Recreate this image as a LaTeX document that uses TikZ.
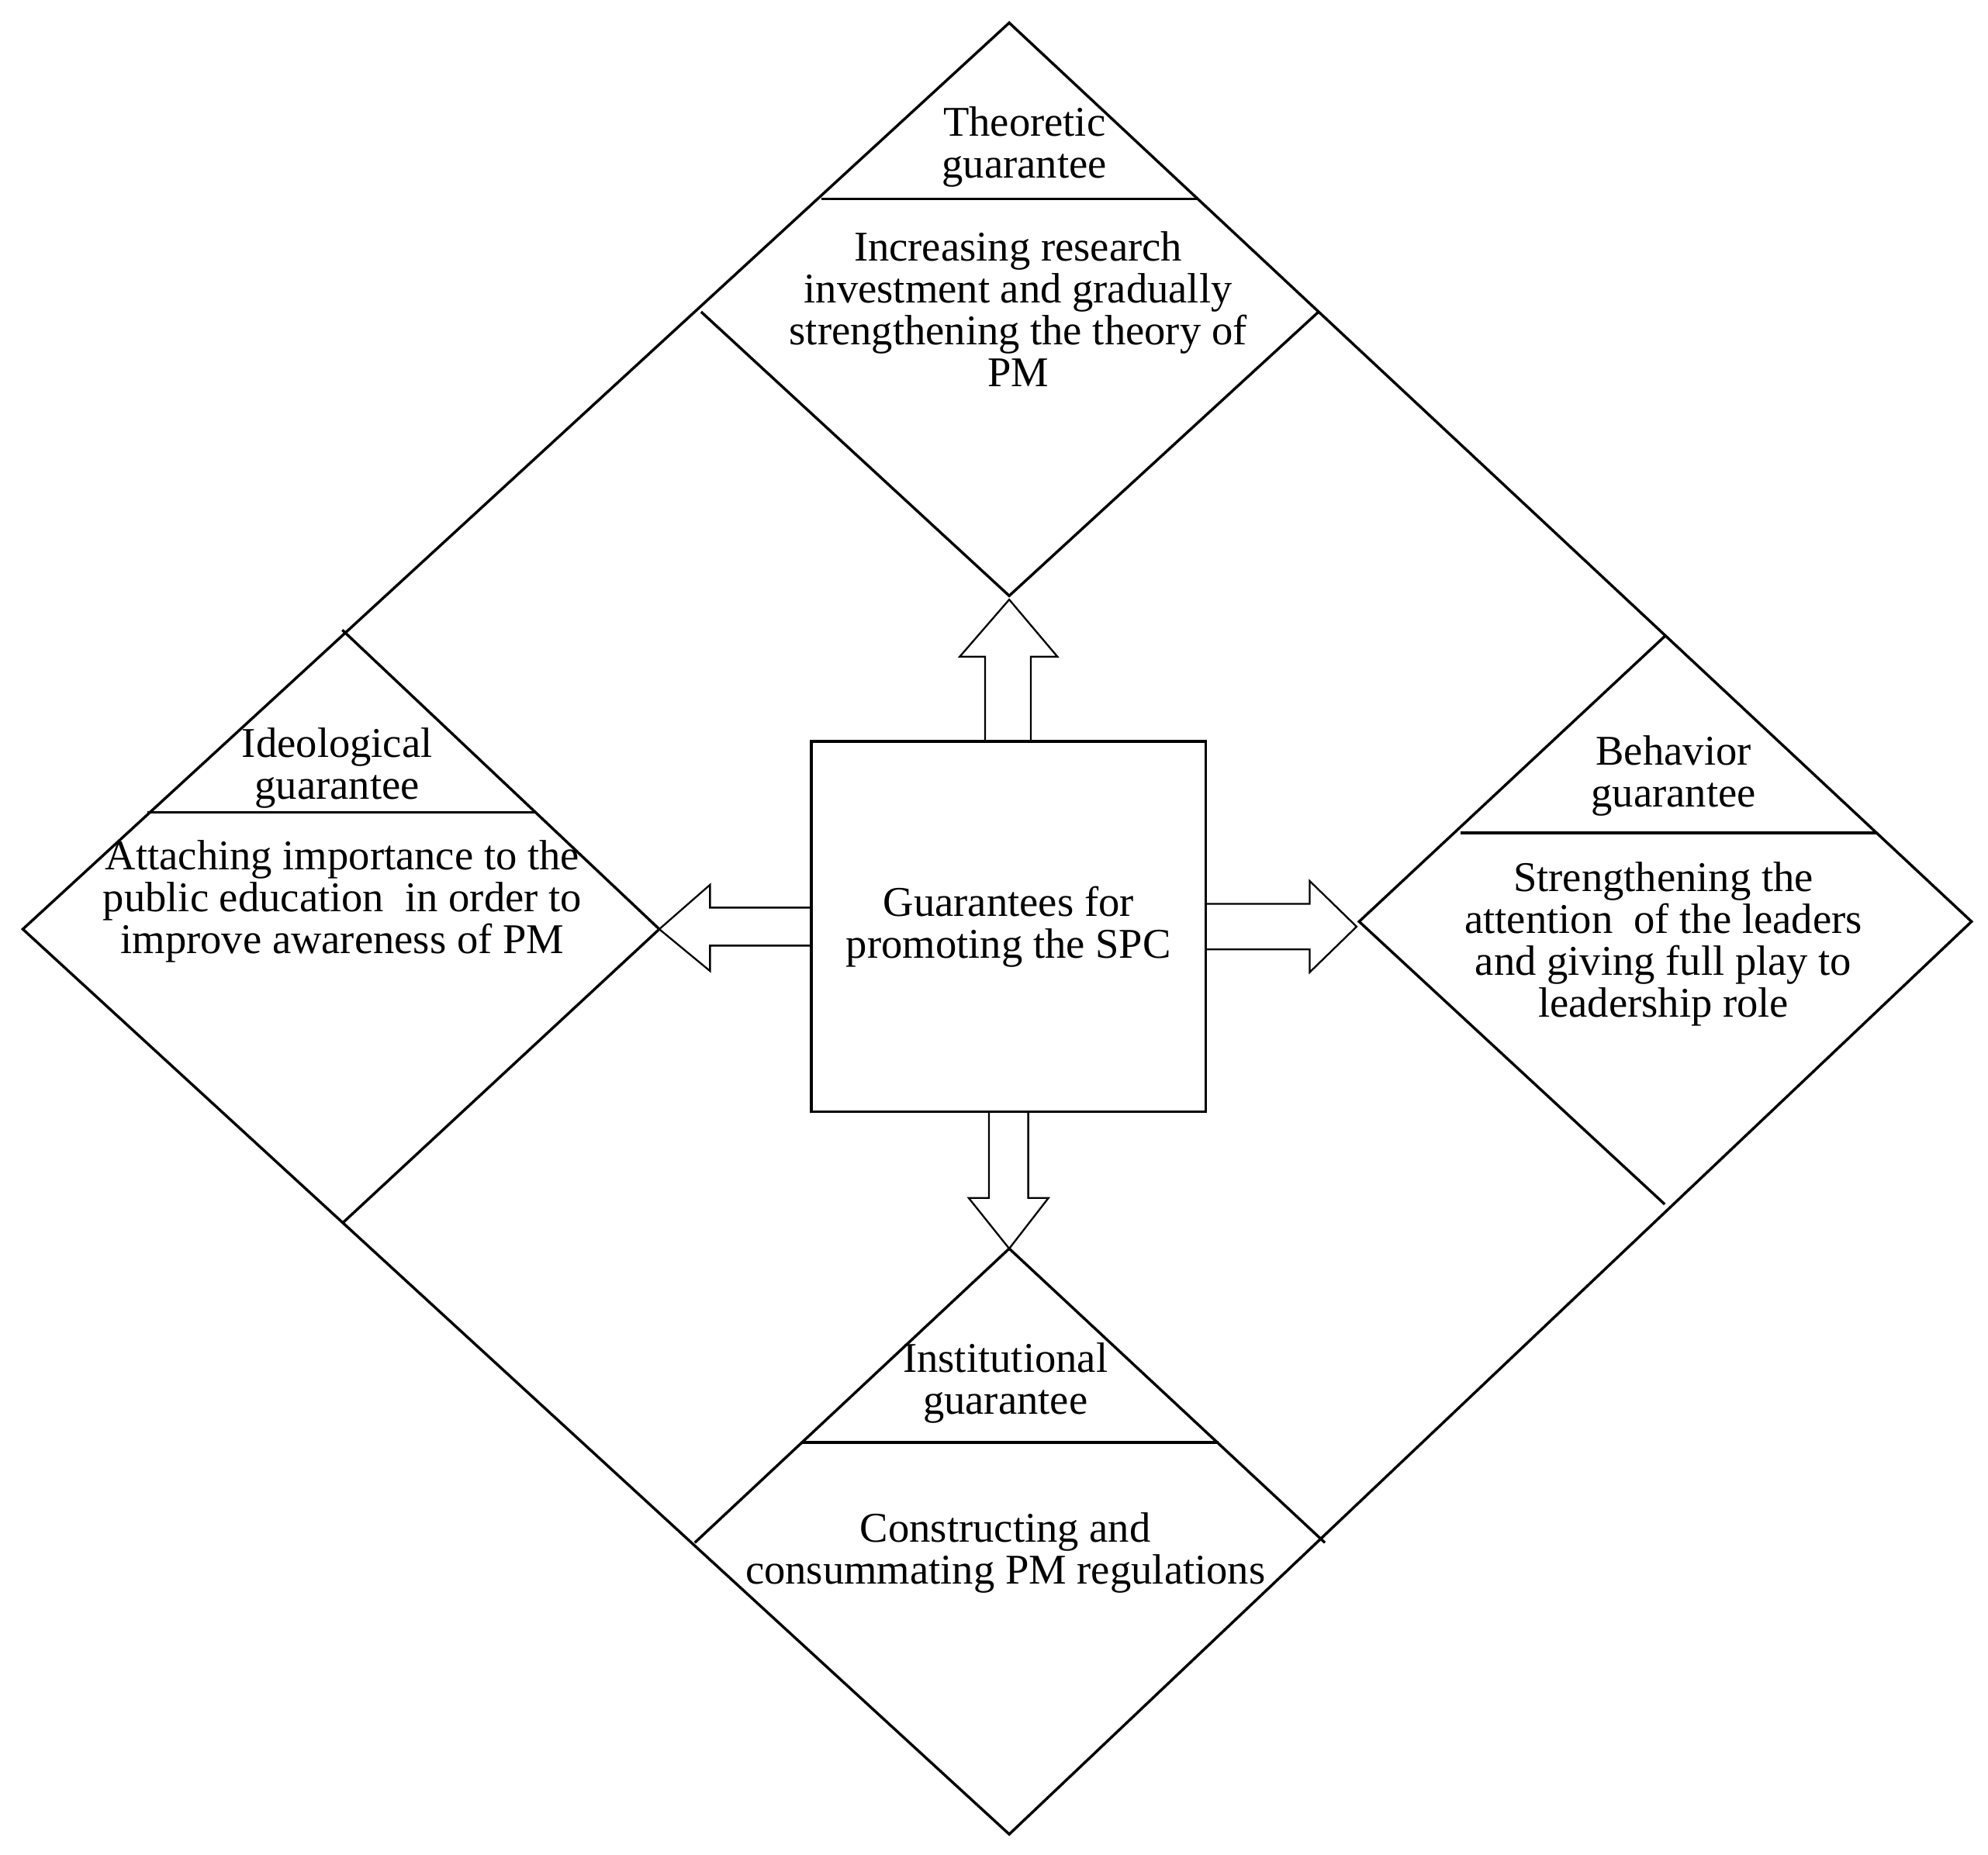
\documentclass[tikz,border=0pt]{standalone}
\usepackage{fontspec}
\setmainfont{Liberation Serif}
\usetikzlibrary{positioning}
\begin{document}
\begin{tikzpicture}[x=0.01cm,y=-0.01cm,line width=0.6pt,
    txt/.style={align=center,font=\fontsize{9.5}{9.4}\selectfont,inner sep=0pt}]
    \useasboundingbox (0,0) rectangle (1568,1463);
    \coordinate (T) at (796,18); \coordinate (L) at (18,733);% outer diamond
    \coordinate (R) at (1555,727); \coordinate (B) at (796,1447);
    \draw (T) -- (R) -- (B) -- (L) -- cycle;% outer diamond
    
    \draw (553,246) -- (796,470) -- (1040,246);% top diamond
    \draw (648,157) -- (945,157);
    \draw (270,497) -- (520,733) -- (270,965);% left diamond
    \draw (116,641) -- (423,641);
    \draw (1313,502) -- (1072,727) -- (1313,950);% right diamond
    \draw (1152,657) -- (1480,657);
    \draw (548,1217) -- (796,985) -- (1045,1217);% bottom diamond
    \draw (632,1138) -- (961,1138);
    
    \draw[line width=0.4pt] (777,585) -- (777,518) -- (757,518) -- (796,473) -- (834,518) -- (813,518) -- (813,585);% up arrow
    \draw[line width=0.4pt] (640,716) -- (560,716) -- (560,698) -- (520,733) -- (560,766) -- (560,746) -- (640,746);% left arrow
    \draw[line width=0.4pt] (951,713) -- (1033,713) -- (1033,695) -- (1070,731) -- (1033,767) -- (1033,749) -- (951,749);% right arrow
    \draw[line width=0.4pt] (780,877) -- (780,945) -- (764,945) -- (796,985) -- (827,945) -- (811,945) -- (811,877);% down arrow
    
    \node[draw,minimum width=3.11cm,minimum height=2.92cm,inner sep=0pt,txt] (center) at (795.5,731)
        {Guarantees for\\promoting the SPC};
    
    \node[txt] (theohead) at (808,116) {Theoretic\\guarantee};
    \node[txt] (theobody) at (803,244) {Increasing research\\investment and gradually\\strengthening the theory of\\PM};
    \node[txt] (ideohead) at (266,606) {Ideological\\guarantee};
    \node[txt] (ideobody) at (270,711) {Attaching importance to the\\public education~ in order to\\improve awareness of PM};
    \node[txt] (behahead) at (1320,612) {Behavior\\guarantee};
    \node[txt] (behabody) at (1312,745) {Strengthening the\\attention~ of the leaders\\and giving full play to\\leadership role};
    \node[txt] (insthead) at (793,1091) {Institutional\\guarantee};
    \node[txt] (instbody) at (793,1225) {Constructing and\\consummating PM regulations};
\end{tikzpicture}
\end{document}
